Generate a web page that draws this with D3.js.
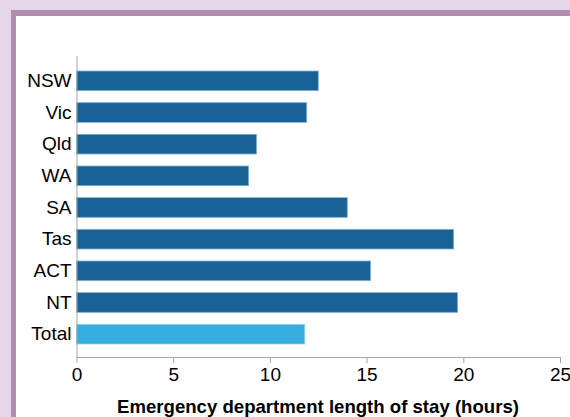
<!DOCTYPE html>
<html>
<head>
<meta charset="utf-8">
<script src="https://cdn.jsdelivr.net/npm/d3@7"></script>
<style>
  html, body { margin: 0; padding: 0; background: #e4d7e9; }
  svg { display: block; }
  text { font-family: "Liberation Sans", Arial, sans-serif; fill: #000; }
</style>
</head>
<body>
<svg id="chart" width="570" height="417"></svg>
<script>
const states = ['NSW', 'Vic', 'Qld', 'WA', 'SA', 'Tas', 'ACT', 'NT', 'Total'];
const hours = [12.5, 11.9, 9.3, 8.9, 14.0, 19.5, 15.2, 19.7, 11.8];
const xTicks = [0, 5, 10, 15, 20, 25];
const axisTitle = 'Emergency department length of stay (hours)';

const rows = states.map((s, i) => ({ state: s, hours: hours[i] }));

const svg = d3.select('#chart');

// purple frame + white panel
svg.append('rect')
  .attr('x', 11).attr('y', 10).attr('width', 570).attr('height', 420)
  .attr('fill', '#b48bb3');
svg.append('rect')
  .attr('x', 16).attr('y', 16).attr('width', 570).attr('height', 420)
  .attr('fill', '#ffffff');

const x = d3.scaleLinear().domain([0, 25]).range([76.5, 560]);
const y = d3.scaleBand().domain(states).range([65, 350]).paddingInner(0.38).paddingOuter(0.19);

const axisTop = 56, axisBottom = 357;

svg.append('g')
  .selectAll('rect')
  .data(rows)
  .join('rect')
  .attr('x', x(0))
  .attr('y', d => y(d.state))
  .attr('width', d => x(d.hours) - x(0))
  .attr('height', y.bandwidth())
  .attr('fill', d => d.state === 'Total' ? '#38aee0' : '#186296')
  .attr('stroke', d => d.state === 'Total' ? '#8fd0ee' : '#7aaed3')
  .attr('stroke-width', 0.8);

// x axis
const xAxis = svg.append('g')
  .attr('transform', `translate(0,${axisBottom})`)
  .call(d3.axisBottom(x).tickValues(xTicks).tickSize(6).tickPadding(5).tickFormat(d3.format('d')));
xAxis.select('.domain').attr('stroke', '#a6a6a6').attr('d', `M${x(0)},0.5H${x(25) + 0.5}`);
xAxis.selectAll('.tick line').attr('stroke', '#a6a6a6');
xAxis.selectAll('.tick text').style('font-size', '19px').attr('fill', '#000');

// y axis
const yAxis = svg.append('g')
  .attr('transform', `translate(${x(0)},0)`)
  .call(d3.axisLeft(y).tickSize(0).tickPadding(5));
yAxis.select('.domain').attr('stroke', '#a6a6a6').attr('d', `M0.5,${axisTop}V${axisBottom}`);
yAxis.selectAll('.tick text').style('font-size', '19px').attr('fill', '#000');

svg.append('text')
  .attr('x', 318)
  .attr('y', 413)
  .attr('text-anchor', 'middle')
  .style('font-size', '18.6px')
  .attr('font-weight', 'bold')
  .text(axisTitle);
</script>
</body>
</html>
